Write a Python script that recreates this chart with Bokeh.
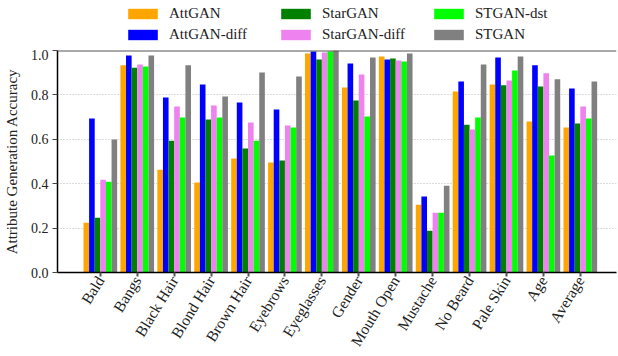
from bokeh.plotting import figure
from bokeh.models import (ColumnDataSource, Range1d, FixedTicker, Legend, LegendItem, Span)
from bokeh.layouts import column
from bokeh.transform import dodge
from bokeh.embed import file_html
from bokeh.resources import INLINE

categories = ["Bald", "Bangs", "Black Hair", "Blond Hair", "Brown Hair", "Eyebrows",
              "Eyeglasses", "Gender", "Mouth Open", "Mustache", "No Beard", "Pale Skin",
              "Age", "Average"]
series_names = ["AttGAN", "AttGAN-diff", "StarGAN", "StarGAN-diff", "STGAN-dst", "STGAN"]
series_colors = ["#FFA500", "#0000FF", "#008000", "#EE82EE", "#00FF00", "#808080"]

attgan      = [0.224, 0.933, 0.463, 0.405, 0.513, 0.495, 0.987, 0.833, 0.973, 0.305, 0.815, 0.847, 0.680, 0.653]
attgan_diff = [0.694, 0.978, 0.788, 0.847, 0.766, 0.734, 0.996, 0.942, 0.960, 0.342, 0.860, 0.969, 0.933, 0.829]
stargan     = [0.247, 0.922, 0.594, 0.689, 0.558, 0.504, 0.960, 0.775, 0.964, 0.188, 0.666, 0.843, 0.838, 0.671]
stargan_diff= [0.418, 0.937, 0.748, 0.752, 0.676, 0.662, 0.991, 0.892, 0.955, 0.269, 0.644, 0.865, 0.897, 0.748]
stgan_dst   = [0.409, 0.928, 0.698, 0.698, 0.594, 0.653, 0.996, 0.703, 0.951, 0.269, 0.698, 0.910, 0.527, 0.694]
stgan       = [0.599, 0.978, 0.933, 0.793, 0.901, 0.883, 1.000, 0.969, 0.987, 0.391, 0.937, 0.973, 0.870, 0.860]
y_ticks = [0.0, 0.2, 0.4, 0.6, 0.8, 1.0]

series_values = [attgan, attgan_diff, stargan, stargan_diff, stgan_dst, stgan]

data = {"x": list(range(len(categories)))}
for name, vals in zip(series_names, series_values):
    data[name] = vals
source = ColumnDataSource(data)

FONT = "Liberation Serif"
bw = 0.152

p = figure(width=618, height=307, output_backend="svg", toolbar_location=None,
           x_range=Range1d(-1.16, 13.98), y_range=Range1d(0, 1.0),
           min_border_left=56, min_border_right=2, min_border_top=1, min_border_bottom=84)
p.outline_line_color = None
p.background_fill_color = "white"
p.border_fill_color = "white"

renderers = []
for k, (name, color) in enumerate(zip(series_names, series_colors)):
    off = (k - 2.5) * bw
    r = p.vbar(x=dodge("x", off), top=name, width=bw, source=source,
               fill_color=color, line_color=None)
    renderers.append(r)

# axes
p.xaxis.ticker = FixedTicker(ticks=list(range(len(categories))))
p.xaxis.major_label_overrides = {i: c for i, c in enumerate(categories)}
p.xaxis.major_label_orientation = 1.02
p.xaxis.major_label_text_font = FONT
p.xaxis.major_label_text_font_size = "15.5px"
p.xaxis.major_label_text_color = "#222222"
p.xaxis.major_tick_in = 0
p.xaxis.major_tick_out = 4
p.xaxis.major_tick_line_color = "#555555"
p.xaxis.major_tick_line_width = 2
p.xaxis.minor_tick_line_color = None
p.xaxis.axis_line_color = "black"
p.xaxis.axis_line_width = 1.5
p.xaxis.major_label_standoff = 1

p.yaxis.ticker = FixedTicker(ticks=y_ticks)
p.yaxis.major_label_overrides = {t: "%.1f" % t for t in y_ticks}
p.yaxis.major_label_text_font = FONT
p.yaxis.major_label_text_font_size = "14px"
p.yaxis.major_label_text_color = "#222222"
p.yaxis.major_tick_in = 0
p.yaxis.major_tick_out = 5
p.yaxis.major_tick_line_color = "#444444"
p.yaxis.minor_tick_line_color = None
p.yaxis.axis_line_color = "black"
p.yaxis.axis_line_width = 1.5
p.yaxis.major_label_standoff = 4
p.yaxis.axis_label = "Attribute Generation Accuracy"
p.yaxis.axis_label_text_font = FONT
p.yaxis.axis_label_text_font_size = "15px"
p.yaxis.axis_label_text_font_style = "normal"
p.yaxis.axis_label_text_color = "#222222"
p.yaxis.axis_label_standoff = 8

p.xgrid.grid_line_color = None
p.ygrid.ticker = FixedTicker(ticks=[0.2, 0.4, 0.6, 0.8])
p.ygrid.grid_line_color = "#b8b8b8"
p.ygrid.grid_line_dash = "1 2"
p.ygrid.grid_line_width = 1

p.add_layout(Span(location=1.0, dimension="width", line_color="#555555", line_width=2))

# legend figure on top (zero-height swatch bars only carry the legend styles)
lf = figure(width=618, height=49, output_backend="svg", toolbar_location=None,
            x_range=Range1d(0, 1), y_range=Range1d(0, 1), min_border=0)
lf.axis.visible = False
lf.grid.grid_line_color = None
lf.outline_line_color = None
lf.background_fill_color = "white"
lf.border_fill_color = "white"
swatch = ColumnDataSource(dict(x=[0.5], top=[0.0]))
lrs = [lf.vbar(x="x", top="top", width=0.01, source=swatch, fill_color=c, line_color=None)
       for c in series_colors]
items = [LegendItem(label=n, renderers=[r]) for n, r in zip(series_names, lrs)]
leg = Legend(items=items, location=(67, 4), orientation="vertical", ncols=3,
             padding=0, margin=0, spacing=0, border_line_color=None,
             background_fill_alpha=0, glyph_width=37, glyph_height=13,
             label_height=21, label_width=108, label_standoff=8,
             label_text_font=FONT, label_text_font_size="15px",
             label_text_color="#222222")
lf.add_layout(leg, "center")

layout = column(lf, p, spacing=0)
open("out.html", "w").write(file_html(layout, INLINE))
